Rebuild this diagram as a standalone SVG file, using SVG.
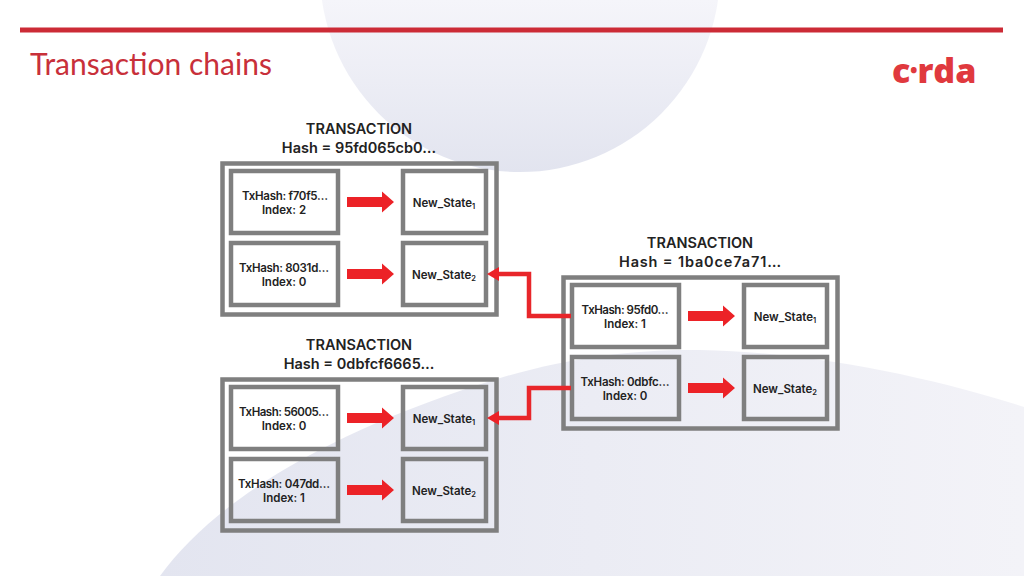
<svg xmlns="http://www.w3.org/2000/svg" width="1024" height="576" viewBox="0 0 1024 576">
<style>
.t{font-family:"Inter","Liberation Sans",sans-serif;font-weight:600;fill:#222;text-anchor:middle}
.box{fill:none;stroke:#7f7f7f;stroke-width:4.5}
.h{font-size:14.5px}
.s{font-size:11.5px}
.sub{font-size:7.5px}
.wire{fill:none;stroke:#e8262a;stroke-width:4.5}
.tip{fill:#ec2227}
</style>
<defs>
<linearGradient id="top" gradientUnits="userSpaceOnUse" x1="0" y1="0" x2="0" y2="172"><stop offset="0" stop-color="#f5f5fa"/><stop offset="1" stop-color="#e2e4ef"/></linearGradient>
<linearGradient id="low" x1="0" y1="0" x2="1" y2="0"><stop offset="0" stop-color="#e3e5f0"/><stop offset="1" stop-color="#f3f3f8"/></linearGradient>
<path id="arr" class="tip" d="M0 -5H35V-10.500L47 0L35 10.500V5H0Z"/>
<g id="tx">
<rect class="box" x="2.500" y="2.500" width="274" height="151"/>
<rect class="box" x="11" y="10" width="107" height="62"/>
<rect class="box" x="183" y="10" width="83" height="62"/>
<rect class="box" x="11" y="82" width="107" height="62"/>
<rect class="box" x="183" y="82" width="83" height="62"/>
<use href="#arr" x="127" y="41"/>
<use href="#arr" x="127" y="113"/>
</g>
</defs>
<rect width="1024" height="576" fill="#fff"/>
<circle fill="url(#top)" cx="520" cy="-28" r="200"/>
<path fill="url(#low)" d="M160 576C215 500 330 430 500 378C570 357 640 349 700 350C820 352 940 380 1024 407V576Z"/>
<rect x="20" y="27.500" width="983" height="5" fill="#cc2b36"/>
<text x="30" y="75" font-family="Lato,sans-serif" font-size="30" fill="#c8303a" textLength="242">Transaction chains</text>
<text id="logo" x="892" y="83" font-family="Open Sans,sans-serif" font-weight="800" font-size="34" fill="#e0393e">c<tspan font-size="18" dy="-6">•</tspan><tspan dy="6">rda</tspan></text>

<g id="tx1" transform="translate(220 161)">
<use href="#tx"/>
</g>
<g id="tx1-text">
<text class="t h" x="359" y="134">TRANSACTION</text>
<text class="t h" x="359" y="153">Hash = 95fd065cb0…</text>
<text class="t s" x="285" y="200" textLength="86">TxHash: f70f5…</text>
<text class="t s" x="284" y="214">Index: 2</text>
<text class="t s" x="284" y="272" textLength="90">TxHash: 8031d…</text>
<text class="t s" x="284" y="286">Index: 0</text>
<text class="t s" x="444" y="207">New_State<tspan class="sub" dy="2">1</tspan></text>
<text class="t s" x="444" y="279">New_State<tspan class="sub" dy="2">2</tspan></text>
</g>

<g id="tx2" transform="translate(220 377)">
<use href="#tx"/>
</g>
<g id="tx2-text">
<text class="t h" x="359" y="350">TRANSACTION</text>
<text class="t h" x="359" y="369">Hash = 0dbfcf6665…</text>
<text class="t s" x="284" y="416" textLength="90">TxHash: 56005…</text>
<text class="t s" x="284" y="430">Index: 0</text>
<text class="t s" x="284" y="488" textLength="92">TxHash: 047dd…</text>
<text class="t s" x="284" y="502">Index: 1</text>
<text class="t s" x="444" y="423">New_State<tspan class="sub" dy="2">1</tspan></text>
<text class="t s" x="444" y="495">New_State<tspan class="sub" dy="2">2</tspan></text>
</g>

<g id="tx3" transform="translate(561 275)">
<use href="#tx"/>
</g>
<g id="tx3-text">
<text class="t h" x="700" y="248">TRANSACTION</text>
<text class="t h" x="700" y="267" textLength="162">Hash = 1ba0ce7a71…</text>
<text class="t s" x="625" y="314" textLength="87">TxHash: 95fd0…</text>
<text class="t s" x="625" y="328">Index: 1</text>
<text class="t s" x="625" y="386" textLength="89">TxHash: 0dbfc…</text>
<text class="t s" x="625" y="400">Index: 0</text>
<text class="t s" x="785" y="321">New_State<tspan class="sub" dy="2">1</tspan></text>
<text class="t s" x="785" y="393">New_State<tspan class="sub" dy="2">2</tspan></text>
</g>

<g id="connectors">
<path class="wire" d="M571 316H529V274H498"/>
<path class="tip" d="M487 274L499 267V281Z"/>
<path class="wire" d="M571 388H529V418H498"/>
<path class="tip" d="M487 418L499 411V425Z"/>
</g>
</svg>
